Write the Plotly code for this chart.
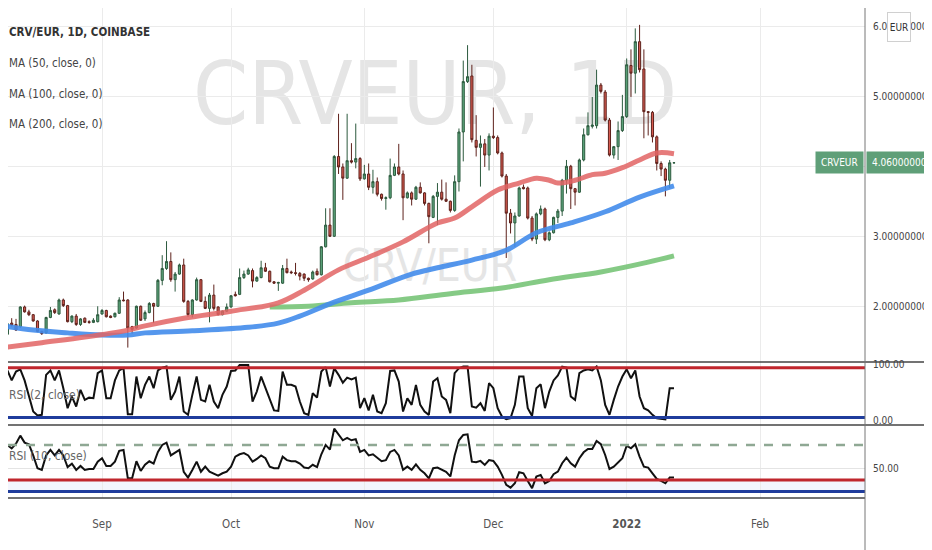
import pandas as pd
import plotly.graph_objects as go

# the page body keeps an 8px margin, so the figure is laid out in window pixels minus that offset
OFF = 8
W, H = 932 - OFF, 550 - OFF
FONT = "DejaVu Sans Condensed, Liberation Sans, sans-serif"

# daily candles, CRV/EUR (Coinbase), 2021-08-08 .. 2022-01-12
dates = pd.date_range("2021-08-08", periods=158, freq="D")

opens = [1.62, 1.50, 1.61, 1.77, 1.75, 1.72, 2.00, 1.93, 1.89, 1.80,
         1.65, 1.63, 1.85, 1.96, 1.90, 2.10, 2.02, 1.79, 1.87, 1.75,
         1.84, 1.79, 1.78, 1.79, 1.90, 1.95, 1.87, 1.86, 1.91, 2.10,
         2.10, 1.72, 1.70, 2.01, 1.83, 1.92, 2.05, 2.01, 2.38, 2.55,
         2.65, 2.39, 2.47, 2.60, 2.08, 1.89, 2.10, 2.39, 2.08, 1.98,
         2.17, 2.00, 1.89, 1.94, 2.00, 2.18, 2.18, 2.42, 2.47, 2.52,
         2.37, 2.42, 2.56, 2.51, 2.36, 2.34, 2.34, 2.55, 2.50, 2.49,
         2.48, 2.47, 2.41, 2.40, 2.51, 2.46, 2.86, 3.17, 3.01, 4.15,
         4.00, 3.84, 4.09, 4.07, 4.12, 3.83, 3.90, 3.71, 3.79, 3.61,
         3.55, 3.56, 3.88, 4.00, 3.90, 3.56, 3.63, 3.54, 3.71, 3.63,
         3.48, 3.28, 3.58, 3.64, 3.54, 3.51, 3.38, 3.79, 4.50, 5.22,
         5.30, 4.38, 4.28, 4.33, 4.17, 4.44, 4.42, 4.20, 3.87, 3.34,
         3.20, 3.30, 3.71, 3.70, 3.27, 2.97, 3.33, 3.40, 2.96, 3.06,
         3.28, 3.37, 3.81, 4.01, 3.69, 3.64, 4.10, 4.46, 4.58, 4.59,
         5.17, 5.07, 4.67, 4.17, 4.29, 4.52, 4.72, 5.45, 5.34, 5.79,
         5.40, 4.79, 4.78, 4.43, 4.05, 3.97, 3.81, 4.06]
highs = [1.63, 1.61, 1.77, 1.84, 1.83, 2.01, 2.02, 1.96, 1.90, 1.81,
         1.66, 1.86, 2.00, 1.98, 2.12, 2.12, 2.03, 1.88, 1.90, 1.84,
         1.85, 1.81, 1.84, 2.01, 1.97, 1.96, 1.88, 1.92, 2.14, 2.22,
         2.11, 1.73, 2.02, 2.02, 1.95, 2.07, 2.06, 2.40, 2.74, 2.94,
         2.78, 2.50, 2.62, 2.69, 2.10, 2.11, 2.42, 2.40, 2.15, 2.20,
         2.32, 2.01, 1.95, 2.05, 2.17, 2.22, 2.55, 2.52, 2.56, 2.55,
         2.44, 2.66, 2.63, 2.52, 2.37, 2.36, 2.60, 2.69, 2.52, 2.63,
         2.50, 2.48, 2.42, 2.52, 2.55, 2.87, 3.41, 3.41, 4.17, 4.76,
         4.05, 4.76, 4.34, 4.62, 4.14, 4.03, 4.05, 3.96, 3.85, 3.62,
         3.58, 4.12, 4.05, 4.33, 3.95, 3.65, 3.65, 3.73, 3.78, 3.64,
         3.49, 3.60, 3.77, 3.82, 3.78, 3.52, 3.88, 4.55, 5.52, 5.74,
         5.46, 4.74, 4.45, 4.40, 4.48, 4.85, 4.45, 4.22, 3.90, 3.40,
         3.35, 3.72, 3.75, 3.72, 3.30, 3.35, 3.45, 3.42, 3.08, 3.29,
         3.40, 3.83, 4.10, 4.03, 3.70, 4.12, 4.55, 4.78, 5.00, 5.39,
         5.20, 5.10, 4.70, 4.30, 4.65, 5.03, 5.55, 5.68, 5.98, 6.03,
         5.68, 4.80, 4.80, 4.45, 4.08, 3.99, 4.10, 4.07]
lows = [1.50, 1.48, 1.60, 1.72, 1.66, 1.70, 1.92, 1.87, 1.79, 1.64,
        1.60, 1.62, 1.84, 1.90, 1.89, 2.00, 1.78, 1.77, 1.73, 1.73,
        1.77, 1.76, 1.77, 1.78, 1.89, 1.85, 1.84, 1.85, 1.90, 2.08,
        1.42, 1.62, 1.69, 1.80, 1.80, 1.91, 1.77, 2.00, 2.31, 2.53,
        2.36, 2.22, 2.46, 2.06, 1.86, 1.85, 2.09, 2.07, 1.97, 1.78,
        1.95, 1.88, 1.88, 1.93, 1.99, 2.15, 2.17, 2.40, 2.46, 2.28,
        2.36, 2.41, 2.50, 2.35, 2.33, 2.23, 2.33, 2.48, 2.47, 2.45,
        2.38, 2.37, 2.36, 2.39, 2.45, 2.45, 2.85, 3.00, 3.00, 3.90,
        3.53, 3.83, 4.05, 3.98, 3.80, 3.82, 3.67, 3.62, 3.58, 3.52,
        3.39, 3.54, 3.87, 3.88, 3.24, 3.55, 3.45, 3.53, 3.62, 3.45,
        2.91, 3.27, 3.17, 3.52, 3.50, 3.35, 3.36, 3.65, 4.08, 5.20,
        4.35, 4.15, 3.72, 4.00, 3.95, 4.40, 4.18, 3.85, 2.70, 3.05,
        2.86, 3.29, 3.68, 3.25, 2.94, 2.90, 3.31, 2.94, 2.94, 3.05,
        3.20, 3.30, 3.62, 3.40, 3.45, 3.63, 4.08, 4.45, 4.55, 4.55,
        5.05, 4.65, 4.15, 4.12, 4.10, 4.50, 4.70, 5.00, 5.05, 5.35,
        4.41, 4.45, 4.35, 3.95, 3.87, 3.58, 3.70, 4.05]
closes = [1.51, 1.60, 1.76, 1.74, 1.67, 2.00, 1.93, 1.89, 1.80, 1.65,
          1.62, 1.85, 1.95, 1.92, 2.10, 2.02, 1.79, 1.87, 1.75, 1.83,
          1.78, 1.78, 1.81, 1.89, 1.95, 1.86, 1.85, 1.91, 2.10, 2.09,
          1.70, 1.68, 2.01, 1.81, 1.92, 2.05, 2.01, 2.38, 2.55, 2.65,
          2.39, 2.47, 2.60, 2.08, 1.89, 2.10, 2.39, 2.08, 1.98, 2.17,
          1.98, 1.89, 1.94, 2.00, 2.16, 2.16, 2.42, 2.47, 2.53, 2.37,
          2.42, 2.56, 2.51, 2.36, 2.34, 2.35, 2.55, 2.49, 2.49, 2.48,
          2.44, 2.41, 2.39, 2.50, 2.46, 2.86, 3.17, 3.01, 4.15, 4.00,
          3.84, 4.09, 4.07, 4.12, 3.83, 3.90, 3.71, 3.79, 3.61, 3.55,
          3.56, 3.88, 4.00, 3.90, 3.56, 3.63, 3.54, 3.71, 3.63, 3.48,
          3.29, 3.58, 3.64, 3.54, 3.51, 3.38, 3.79, 4.50, 5.22, 5.29,
          4.39, 4.28, 4.33, 4.17, 4.44, 4.42, 4.20, 3.87, 3.34, 3.20,
          3.30, 3.70, 3.69, 3.27, 2.97, 3.33, 3.40, 2.96, 3.06, 3.28,
          3.37, 3.81, 4.01, 3.69, 3.64, 4.10, 4.46, 4.59, 4.60, 5.17,
          5.08, 4.67, 4.17, 4.29, 4.52, 4.72, 5.46, 5.34, 5.79, 5.39,
          4.79, 4.78, 4.43, 4.05, 3.97, 3.81, 4.06, 4.06]

# moving averages, read at sparse days (index into dates)
ma50_idx = [0, 10, 20, 30, 34, 43, 54, 65, 71, 79, 86, 94, 102, 106, 110, 116,
            121, 125, 128, 130, 134, 138, 141, 145, 149, 153, 157]
ma50_val = [1.41, 1.49, 1.57, 1.67, 1.73, 1.84, 1.94, 2.06, 2.24, 2.53, 2.71, 2.93,
            3.20, 3.27, 3.43, 3.67, 3.77, 3.84, 3.81, 3.77, 3.81, 3.89, 3.91, 3.99,
            4.10, 4.20, 4.19]
ma100_idx = [0, 8, 16, 24, 30, 34, 45, 58, 65, 70, 78, 86, 96, 102, 110, 118,
             125, 133, 141, 149, 157]
ma100_val = [1.74, 1.67, 1.63, 1.60, 1.60, 1.63, 1.66, 1.71, 1.77, 1.87, 2.07, 2.24,
             2.47, 2.56, 2.67, 2.81, 3.06, 3.20, 3.36, 3.57, 3.73]
ma200_idx = [63, 72, 82, 93, 105, 117, 128, 140, 151, 157]
ma200_val = [2.00, 2.01, 2.06, 2.10, 2.19, 2.27, 2.39, 2.50, 2.64, 2.73]

rsi2 = [58, 77, 90, 72, 88, 92, 72, 46, 16, 9,
        10, 82, 90, 72, 90, 58, 22, 43, 25, 55,
        37, 41, 40, 85, 90, 40, 40, 72, 90, 94,
        11, 11, 79, 40, 64, 79, 58, 90, 95, 97,
        37, 52, 79, 16, 10, 46, 79, 37, 34, 64,
        34, 22, 46, 61, 89, 90, 100, 100, 100, 34,
        52, 79, 58, 37, 18, 17, 88, 64, 64, 61,
        34, 13, 10, 49, 41, 88, 96, 61, 94, 82,
        68, 77, 74, 77, 22, 40, 18, 46, 16, 13,
        31, 89, 90, 70, 16, 40, 28, 64, 28, 16,
        10, 70, 76, 43, 37, 13, 85, 94, 97, 97,
        25, 23, 31, 17, 67, 58, 22, 7, 2, 4,
        28, 79, 79, 22, 8, 58, 65, 22, 52, 72,
        81, 97, 95, 43, 37, 85, 90, 92, 90, 97,
        72, 28, 10, 37, 61, 79, 92, 76, 90, 43,
        22, 18, 10, 4, 3, 2, 58, 58]
rsi10 = [58.6, 66, 70, 67, 71, 78, 72, 70.6, 61, 50,
         48.6, 61, 65.7, 61, 65.7, 61, 51, 54, 48.6, 52,
         48.6, 49.4, 49.4, 55.7, 58.6, 52, 52, 55.7, 65, 65.7,
         41.4, 41.4, 56, 47.7, 53, 56, 54, 64, 70, 72,
         61, 63, 65.7, 47, 42, 48.6, 55.7, 47, 51.4, 47,
         45, 43.7, 45.7, 47, 51.4, 60, 62, 63, 61, 55.7,
         58, 61, 58.6, 51.4, 50, 50, 60, 57, 56, 56,
         54, 50.6, 50, 53, 51, 62, 70, 66, 84, 79,
         74, 76, 74, 75, 64, 65.7, 61, 62, 58.6, 56,
         57, 64, 65.7, 61, 48.6, 51.4, 48.6, 53.4, 48.6, 45.7,
         41.4, 50, 50.6, 48.6, 47, 43, 61, 74, 78.6, 79.1,
         55.7, 55.1, 56.3, 52.9, 57.1, 56.3, 51.4, 44.3, 35.7, 33.4,
         37.1, 46.6, 45.7, 39.1, 32.9, 42.9, 44.3, 37.1, 39.1, 44.9,
         47.1, 54.3, 59.1, 54.3, 51.4, 58.6, 63.7, 66.6, 66.6, 73.4,
         70.6, 61.4, 49.4, 51.4, 55.1, 58.6, 69.4, 67.1, 70.6, 60,
         51.4, 50.6, 45.7, 40.9, 39.1, 37.1, 42, 42]

price_ticks = [2, 3, 4, 5, 6]
month_ticks = ["2021-09-01", "2021-10-01", "2021-11-01", "2021-12-01", "2022-01-01", "2022-02-01"]
month_labels = ["Sep", "Oct", "Nov", "Dec", "<b>2022</b>", "Feb"]
rsi2_levels = [95, 5]
rsi10_levels = [70, 40, 30]
last_price = 4.06


def px(col):
    """window pixel column -> paper x"""
    return (col - OFF) / W


def py(row):
    """window pixel row -> paper y"""
    return 1 - (row - OFF) / H


XR = px(865)
MAIN = [py(362), 1]
P2 = [py(425), py(362)]
P3 = [py(498), py(425)]

fig = go.Figure()

fig.add_trace(go.Candlestick(
    x=dates, open=opens, high=highs, low=lows, close=closes,
    increasing=dict(line=dict(color="#2c5a3e", width=1), fillcolor="#5ea87e"),
    decreasing=dict(line=dict(color="#5e221c", width=1), fillcolor="#d65a4f"),
    whiskerwidth=0, hoverinfo="skip", xaxis="x", yaxis="y",
))
fig.add_trace(go.Scatter(x=dates[ma200_idx], y=ma200_val, mode="lines",
                         line=dict(color="rgba(120,196,120,0.9)", width=5, shape="spline"), yaxis="y"))
fig.add_trace(go.Scatter(x=dates[ma100_idx], y=ma100_val, mode="lines",
                         line=dict(color="rgba(66,140,235,0.9)", width=5, shape="spline"), yaxis="y"))
fig.add_trace(go.Scatter(x=dates[ma50_idx], y=ma50_val, mode="lines",
                         line=dict(color="rgba(226,100,100,0.85)", width=5, shape="spline"), yaxis="y"))

fig.add_trace(go.Scatter(x=dates, y=rsi2, mode="lines", line=dict(color="#111", width=2), yaxis="y2"))
fig.add_trace(go.Scatter(x=dates, y=rsi10, mode="lines", line=dict(color="#111", width=2), yaxis="y3"))

# indicator level lines
fig.add_shape(type="rect", xref="x domain", yref="y3", x0=0, x1=1, y0=rsi10_levels[2], y1=rsi10_levels[1],
              fillcolor="rgba(90,110,230,0.07)", line_width=0, layer="below")
for lvl, col in zip(rsi2_levels, ["#c0262d", "#1f3c9c"]):
    fig.add_shape(type="line", xref="x domain", yref="y2", x0=0, x1=1, y0=lvl, y1=lvl,
                  line=dict(color=col, width=3))
fig.add_shape(type="line", xref="x domain", yref="y3", x0=0, x1=1, y0=rsi10_levels[0], y1=rsi10_levels[0],
              line=dict(color="#8fa894", width=2.5, dash="dash"))
for lvl, col in zip(rsi10_levels[1:], ["#c0262d", "#1f3c9c"]):
    fig.add_shape(type="line", xref="x domain", yref="y3", x0=0, x1=1, y0=lvl, y1=lvl,
                  line=dict(color=col, width=3))

# pane separators and price-scale border
for row, x1 in [(362, 1), (425, 1), (498, XR)]:
    fig.add_shape(type="line", xref="paper", yref="paper", x0=0, x1=x1, y0=py(row), y1=py(row),
                  line=dict(color="#444", width=1.5))
fig.add_shape(type="line", xref="paper", yref="paper", x0=XR, x1=XR, y0=0, y1=1,
              line=dict(color="#777", width=1))

# watermarks
fig.add_shape(type="rect", xref="paper", yref="paper", x0=px(200), x1=px(670), y0=py(150), y1=py(25),
              line_width=0, fillcolor="rgba(0,0,0,0)", layer="below",
              label=dict(text="CRVEUR, 1D", textposition="middle center",
                         font=dict(family=FONT, size=88, color="#e5e5e5")))
fig.add_shape(type="rect", xref="paper", yref="paper", x0=px(330), x1=px(530), y0=py(285), y1=py(240),
              line_width=0, fillcolor="rgba(0,0,0,0)", layer="below",
              label=dict(text="CRV/EUR", textposition="middle center",
                         font=dict(family=FONT, size=44, color="#e5e5e5")))

# pane legends
legend_rows = [("<b>CRV/EUR, 1D, COINBASE</b>", 32, "#333", 11.5), ("MA (50, close, 0)", 63, "#444", 11.5),
               ("MA (100, close, 0)", 94, "#444", 11.5), ("MA (200, close, 0)", 124, "#444", 11.5),
               ("RSI (2, close)", 395, "#666", 12), ("RSI (10, close)", 456, "#666", 12)]
for txt, row, col, size in legend_rows:
    fig.add_annotation(text=txt, xref="paper", yref="paper", x=px(7), y=py(row), xanchor="left",
                       yanchor="middle", showarrow=False, font=dict(family=FONT, size=size, color=col))

# last price tags and currency badge
tag = "#5f9f78"
fig.add_annotation(text="CRVEUR", xref="paper", yref="y", x=XR - 1 / W, y=last_price, xanchor="right",
                   yanchor="middle", showarrow=False, bgcolor=tag, borderpad=5,
                   font=dict(family=FONT, size=10, color="white"))
fig.add_annotation(text=f"{last_price:.8f}", xref="paper", yref="y", x=XR + 1 / W, y=last_price,
                   xanchor="left", yanchor="middle", showarrow=False, bgcolor=tag, borderpad=5,
                   font=dict(family=FONT, size=10, color="white"))
fig.add_annotation(text="EUR", xref="paper", yref="paper", x=px(899), y=py(27), xanchor="center",
                   yanchor="middle", showarrow=False, bgcolor="white", bordercolor="#d0d0d0",
                   borderwidth=1, width=20, height=26, font=dict(family=FONT, size=10, color="#333"))

axis_font = dict(family=FONT, size=10, color="#444")
fig.update_layout(
    width=W, height=H, margin=dict(l=0, r=0, t=0, b=0, autoexpand=False),
    paper_bgcolor="white", plot_bgcolor="rgba(0,0,0,0)",
    showlegend=False, hovermode=False,
    font=dict(family=FONT, size=11, color="#444"),
    xaxis=dict(domain=[0, XR], anchor="y3", type="date",
               range=["2021-08-10 03:20", "2022-02-25 10:00"],
               tickvals=month_ticks, ticktext=month_labels, tickfont=dict(family=FONT, size=11.5, color="#555"),
               showgrid=True, gridcolor="#ebebeb", zeroline=False, showline=False,
               ticks="", ticklabelstandoff=17, rangeslider=dict(visible=False)),
    yaxis=dict(domain=MAIN, anchor="x", side="right", range=[1.214, 6.271],
               tickvals=price_ticks, tickformat=".8f", tickfont=axis_font,
               showgrid=True, gridcolor="#ebebeb", zeroline=False, ticklabelstandoff=7),
    yaxis2=dict(domain=P2, anchor="x", side="right", range=[-8.3, 105.2],
                tickvals=[0, 100], tickformat=".2f", tickfont=axis_font,
                showgrid=False, zeroline=False, ticklabelstandoff=7),
    yaxis3=dict(domain=P3, anchor="x", side="right", range=[24.5, 87.1],
                tickvals=[50], tickformat=".2f", tickfont=axis_font,
                showgrid=True, gridcolor="#e4e4e4", zeroline=False, ticklabelstandoff=7),
)

fig.write_html("out.html")
